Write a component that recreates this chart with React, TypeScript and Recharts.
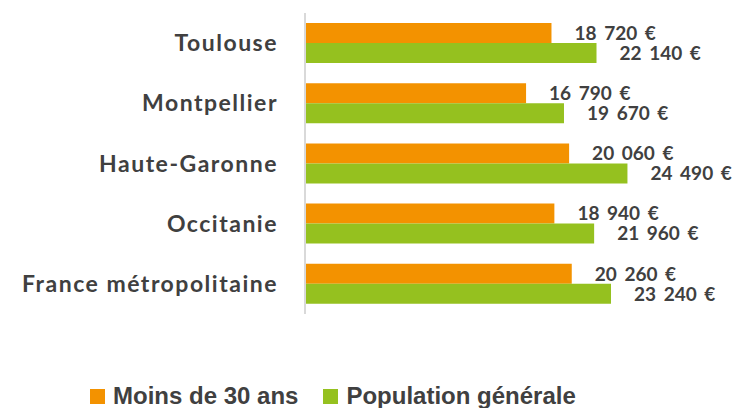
import React from 'react';
import { BarChart, Bar, XAxis, YAxis, LabelList, Legend } from 'recharts';

const categories = ['Toulouse', 'Montpellier', 'Haute-Garonne', 'Occitanie', 'France métropolitaine'];
const under30 = [18720, 16790, 20060, 18940, 20260];
const general = [22140, 19670, 24490, 21960, 23240];
const seriesNames = ['Moins de 30 ans', 'Population générale'];
const seriesColors = ['#F39200', '#95C11F'];

const data = categories.map((name, i) => ({ name, under30: under30[i], general: general[i] }));

const fmt = (v: any) => String(v).replace(/\B(?=(\d{3})+(?!\d))/g, ' ') + ' €';

const TEXT = '#404040';

const labelStyle: any = { fontFamily: 'Lato', fontWeight: 700, fontSize: 19, fill: TEXT, wordSpacing: 3 };

const LegendContent = () => (
  <div style={{ display: 'flex', alignItems: 'center', height: 28, lineHeight: '28px', fontFamily: '"Liberation Sans", Arial, sans-serif', fontWeight: 700, fontSize: 24, color: TEXT, whiteSpace: 'nowrap' }}>
    {seriesNames.map((n, i) => (
      <div key={n} style={{ display: 'flex', alignItems: 'center', marginRight: i === 0 ? 25 : 0 }}>
        <span style={{ display: 'inline-block', width: 15, height: 15, background: seriesColors[i], marginRight: 8 }} />
        <span>{n}</span>
      </div>
    ))}
  </div>
);

export default function App() {
  return (
    <div style={{ position: 'absolute', left: 0, top: 0, width: 738, height: 408, background: '#fff' }}>
      <BarChart
        width={738}
        height={408}
        data={data}
        layout="vertical"
        margin={{ top: 13, right: 38, bottom: 94, left: 0 }}
        barGap={0}
      >
        <XAxis type="number" domain={[0, 30000]} hide />
        <YAxis
          type="category"
          dataKey="name"
          width={305}
          tickLine={false}
          tickSize={0}
          tickMargin={27}
          axisLine={{ stroke: '#d9d9d9', strokeWidth: 2 }}
          tick={{ fontFamily: 'Lato', fontWeight: 700, fontSize: 23, fill: TEXT, letterSpacing: 1.5 }}
        />
        <Legend
          verticalAlign="middle"
          align="center"
          content={<LegendContent />}
          wrapperStyle={{ position: 'absolute', top: 382, left: 90, width: 600, height: 28 }}
        />
        <Bar dataKey="under30" name={seriesNames[0]} fill={seriesColors[0]} barSize={20} isAnimationActive={false}>
          <LabelList dataKey="under30" position="right" offset={23} formatter={fmt} style={labelStyle} />
        </Bar>
        <Bar dataKey="general" name={seriesNames[1]} fill={seriesColors[1]} barSize={20} isAnimationActive={false}>
          <LabelList dataKey="general" position="right" offset={23} formatter={fmt} style={labelStyle} />
        </Bar>
      </BarChart>
    </div>
  );
}
